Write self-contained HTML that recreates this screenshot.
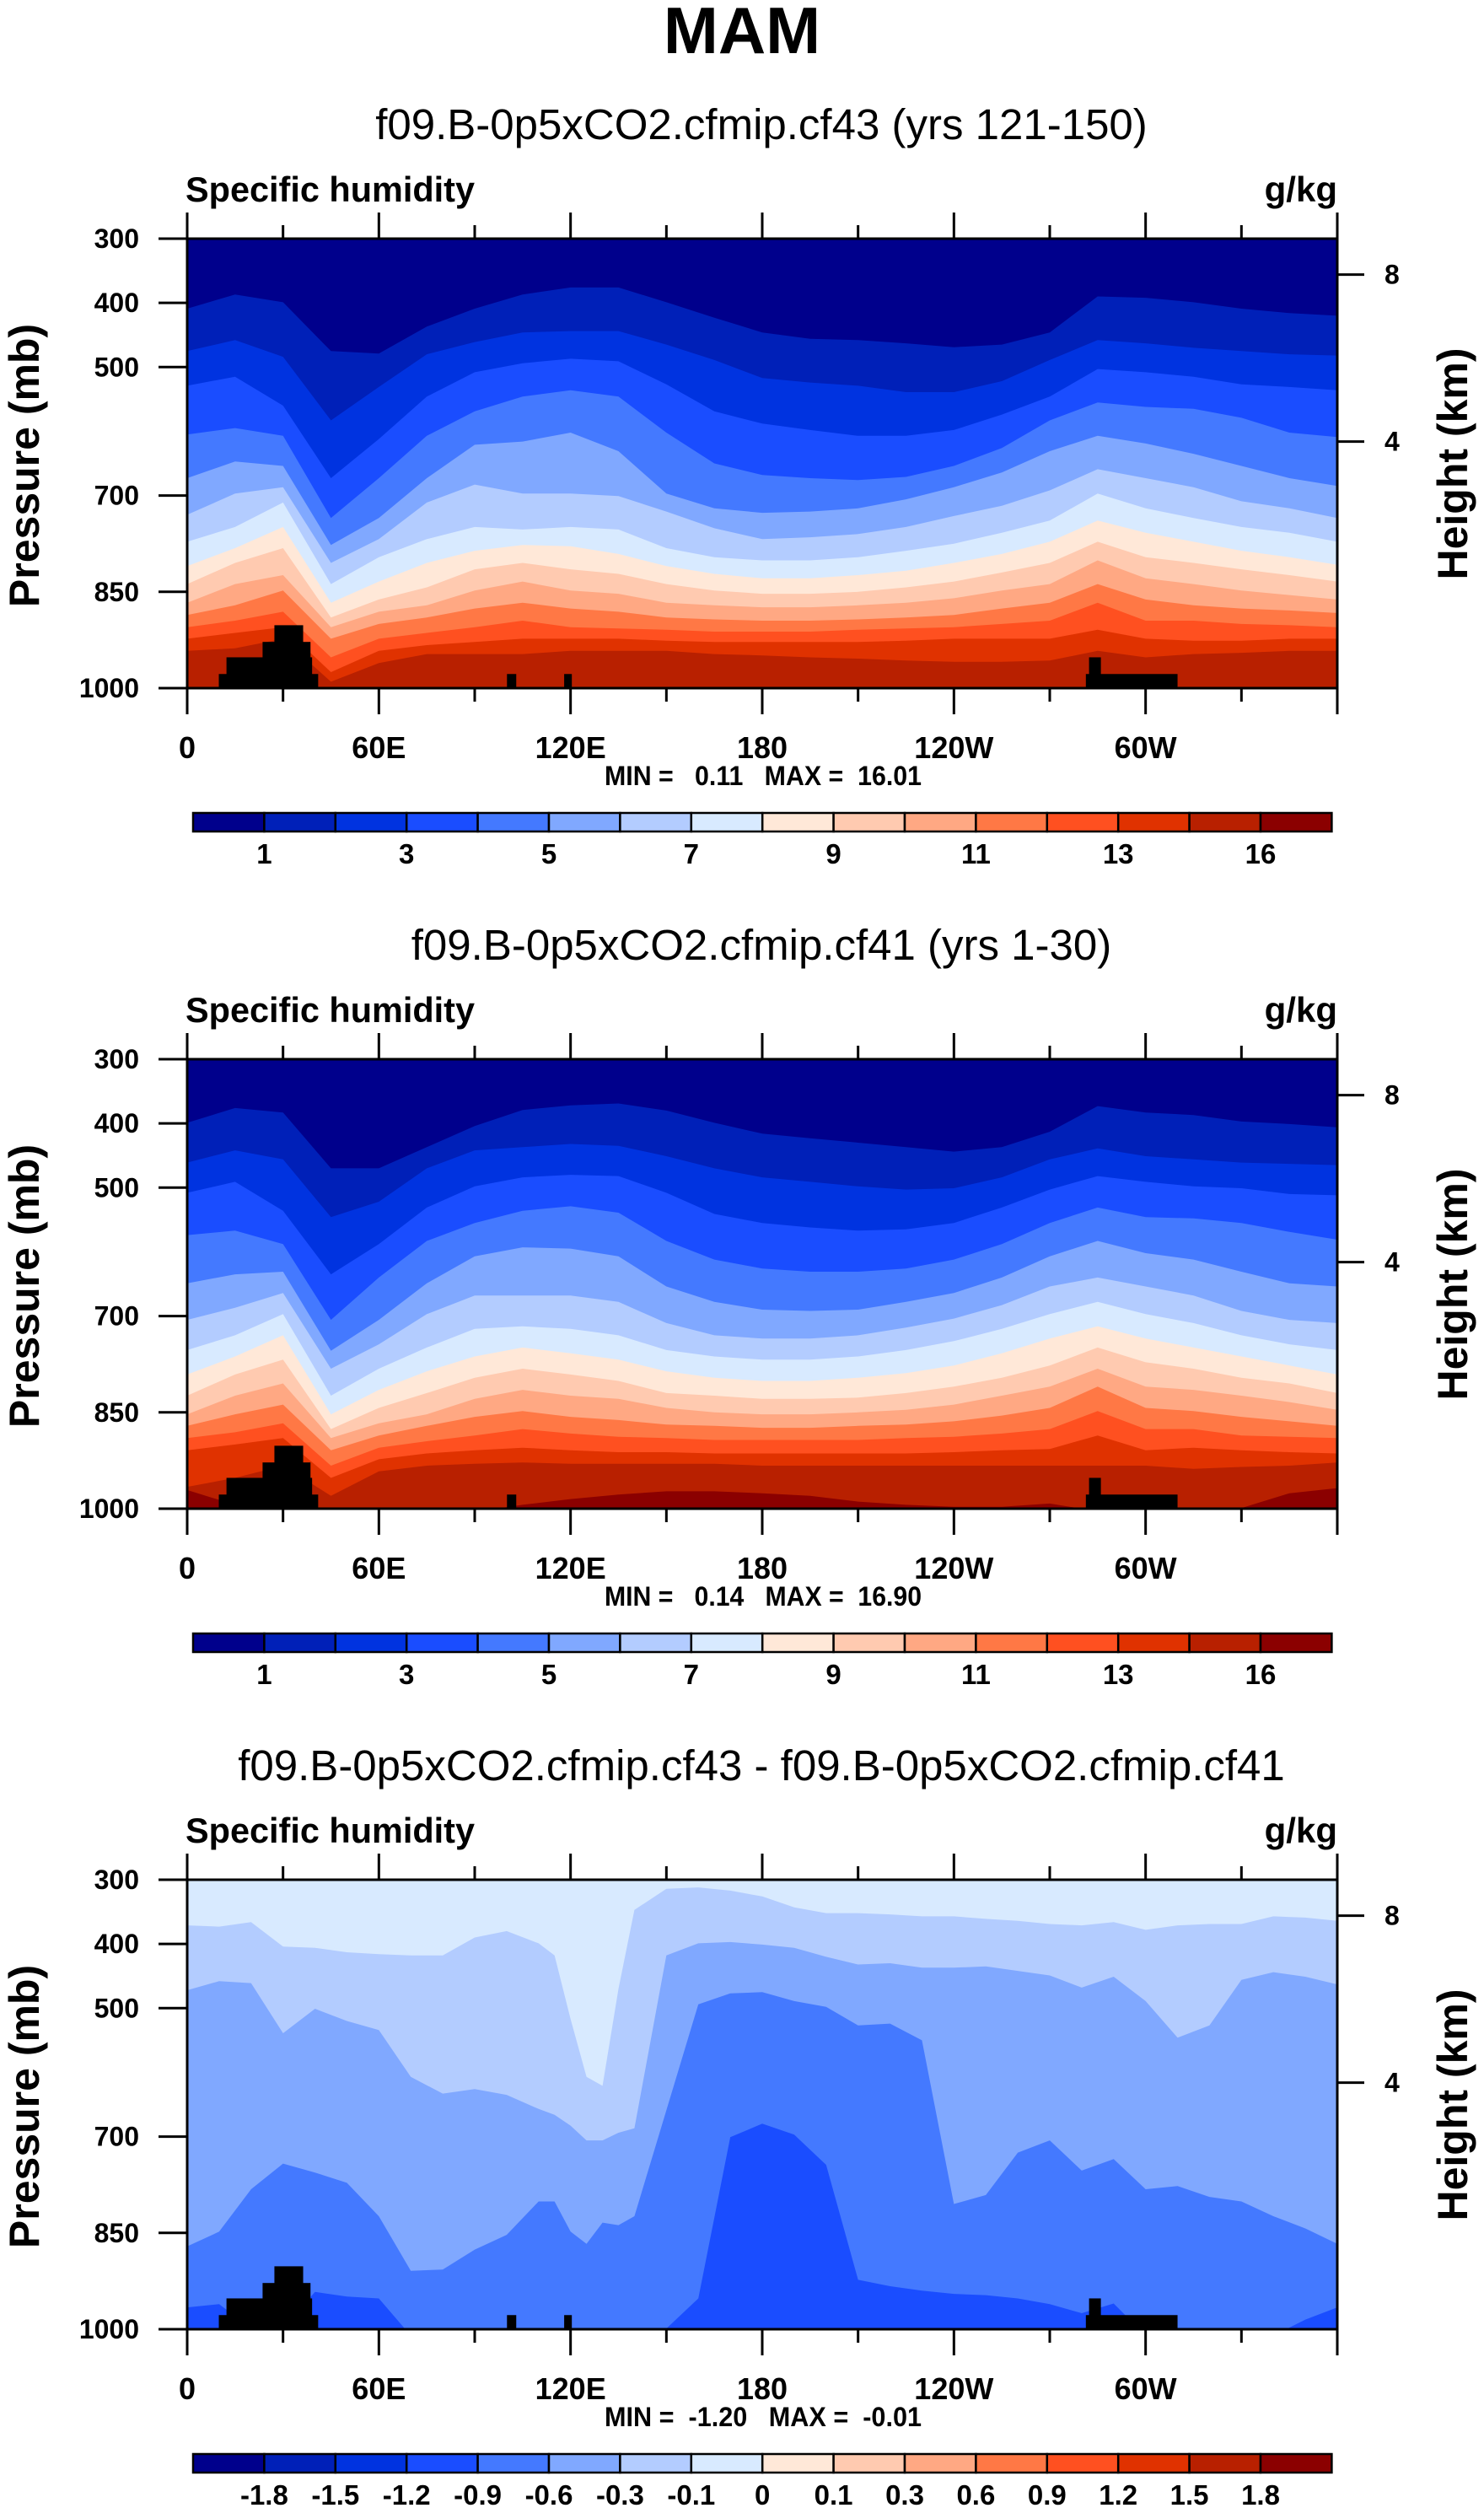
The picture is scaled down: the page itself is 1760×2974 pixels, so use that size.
<!DOCTYPE html>
<html><head><meta charset="utf-8">
<style>
html,body{margin:0;padding:0;background:#fff;}
svg{display:block;}
text{font-family:"Liberation Sans",Arial,sans-serif;fill:#000;}
.b{font-weight:bold;}
.pre{white-space:pre;}
</style></head>
<body>
<svg id="fig" xmlns="http://www.w3.org/2000/svg" width="1760" height="2974" viewBox="0 0 1760 2974">
<rect x="0" y="0" width="1760" height="2974" fill="#fff"/>
<text x="880" y="63" text-anchor="middle" class="b" font-size="78">MAM</text>
</svg>
<script>
// ---------------- DATA ----------------
const lonP12 = [0,15,30,45,60,75,90,105,120,135,150,165,180,195,210,225,240,255,270,285,300,315,330,345,360];
const p1Lines = [
[409,387,399,475,479,437,409,387,376,376,399,423,446,456,458,463,469,465,446,390,392,399,409,416,420],
[475,458,484,583,531,480,461,446,444,444,465,489,517,524,529,539,539,522,489,458,463,470,475,480,482],
[529,515,560,673,612,546,508,494,487,491,527,569,588,598,607,607,598,574,546,503,508,515,527,531,536],
[605,595,607,735,673,607,569,546,536,546,602,650,668,673,676,671,654,626,583,555,562,565,579,602,609],
[673,647,654,777,735,673,621,616,602,631,697,720,727,725,720,706,687,664,631,607,619,635,654,673,685],
[730,697,687,805,768,711,683,697,697,701,725,751,768,765,760,749,732,716,692,659,673,687,709,720,735],
[772,749,711,838,796,768,749,753,749,753,782,796,801,801,796,786,775,758,739,697,720,735,749,758,772],
[810,782,749,867,834,805,786,777,779,791,810,822,829,829,824,817,805,791,772,739,758,772,786,796,808],
[838,805,782,890,862,843,815,805,815,822,838,848,853,853,850,843,834,820,805,772,796,805,815,824,834],
[867,838,824,905,881,871,848,834,848,853,867,871,874,874,871,867,860,848,838,801,829,838,848,855,862],
[886,871,848,923,900,890,876,867,876,881,890,893,895,895,893,890,886,876,867,838,862,871,876,879,883],
[905,895,881,952,923,914,905,895,905,907,909,912,912,912,909,907,905,900,895,867,895,895,900,902,905],
[923,914,905,975,942,933,928,923,923,923,926,928,928,928,928,926,923,923,923,909,923,926,926,923,923],
[942,938,923,990,961,947,947,947,942,942,942,947,949,952,954,957,959,959,957,942,952,947,945,942,942]
];
const p2Lines = [
[399,376,383,470,470,437,404,379,372,369,380,399,416,423,430,437,444,437,413,373,383,387,397,401,406],
[461,442,456,546,522,470,442,437,432,435,451,470,484,491,498,503,501,484,456,439,451,456,461,463,465],
[508,491,536,635,588,531,498,484,480,482,508,541,555,562,567,565,555,531,503,482,491,498,501,510,512],
[574,567,588,706,640,583,555,536,529,539,583,612,626,631,631,626,612,588,555,531,546,548,555,569,581],
[649,635,631,754,706,649,607,593,595,607,654,678,690,692,690,678,664,640,607,583,602,612,631,649,654],
[706,687,664,782,744,697,668,668,668,678,711,730,735,735,730,718,704,683,654,640,654,668,692,706,711],
[753,730,697,824,782,749,720,716,720,730,753,763,768,768,763,753,739,720,697,678,697,711,730,744,753],
[791,763,730,853,815,786,763,749,758,768,786,796,801,801,796,789,777,758,735,716,735,749,763,777,791],
[824,791,768,876,843,820,796,782,791,801,820,824,829,829,827,820,810,796,777,749,772,782,796,805,820],
[853,824,805,890,867,853,829,815,824,829,843,850,853,853,850,846,838,824,810,782,810,815,824,834,846],
[871,853,838,909,886,871,857,848,857,862,869,871,874,874,871,869,864,855,843,810,843,848,857,864,871],
[890,881,867,933,905,895,886,876,883,888,890,893,893,893,893,890,888,883,876,848,876,876,886,888,890],
[909,900,890,952,923,914,909,905,909,912,912,914,914,914,914,914,912,909,907,886,909,905,909,912,914],
[966,952,933,980,942,933,930,928,930,930,930,930,933,933,933,933,933,933,933,933,933,938,935,933,928],
[971,994,1010,1010,1010,1010,1005,994,985,978,973,973,976,980,989,994,997,997,992,1004,1004,1004,999,976,968]
];
const lonP3 = [0,10,20,30,40,50,60,70,80,90,100,110,115,120,125,130,135,140,150,160,170,180,190,200,210,220,230,240,250,260,270,280,290,300,310,320,330,340,350,360];
const p3Line01 = [371,373,366,404,406,413,416,418,418,390,380,399,418,517,607,621,470,347,314,312,317,326,343,352,352,354,357,357,361,364,369,371,366,378,371,369,369,357,359,364];
const p3Line03 = [472,458,461,539,501,520,534,607,633,626,635,657,666,683,706,706,694,687,418,399,397,401,406,420,432,430,437,437,435,442,449,468,451,489,546,527,456,444,451,463];
const p3Line06 = [871,848,782,742,756,772,824,909,907,876,853,801,801,848,867,834,838,824,659,494,477,475,489,498,527,524,550,805,791,725,706,753,735,782,777,794,801,824,843,867];
const p3Line09 = [966,961,999,999,942,949,952,1010,1010,1010,1010,1010,1010,1010,1010,1010,1010,1010,999,952,701,680,697,744,923,933,940,945,947,952,961,975,960,1010,1010,1010,1010,1010,985,966];
const palette = ["#00008c","#0020b8","#0033e0","#1a4dff","#4479ff","#80a8ff","#b3ccff","#d8eaff","#ffe8d8","#ffcab0","#ffa883","#ff7845","#ff5020","#e03200","#b82000","#8b0000"];
const cbLabelsQ = ["1","3","5","7","9","11","13","16"];
const cbLabelsD = ["-1.8","-1.5","-1.2","-0.9","-0.6","-0.3","-0.1","0","0.1","0.3","0.6","0.9","1.2","1.5","1.8"];
const topoLon0 = [9.9,12.3,23.6,27.3,100.1,118,281.3,282.3];
const topoLon1 = [41,39.1,38.6,36.3,103,120.4,310,286];
const topoTop  = [978,952,928,902,978,978,978,952];
const xTickLabels = ["0","60E","120E","180","120W","60W"];
const pTicks = [300,400,500,700,850,1000];
const hTicks = [8,4];
const hTickP = [356,616];
const subtitles = ["f09.B-0p5xCO2.cfmip.cf43 (yrs 121-150)","f09.B-0p5xCO2.cfmip.cf41 (yrs 1-30)","f09.B-0p5xCO2.cfmip.cf43 - f09.B-0p5xCO2.cfmip.cf41"];
const minmax = ["MIN =   0.11   MAX =  16.01","MIN =   0.14   MAX =  16.90","MIN =  -1.20   MAX =  -0.01"];

// ---------------- DRAW ----------------
const NS="http://www.w3.org/2000/svg";
const svg=document.getElementById('fig');
const X0=222,X1=1586,H=533;
function mk(tag,attrs,parent){const e=document.createElementNS(NS,tag);for(const k in attrs)e.setAttribute(k,attrs[k]);(parent||svg).appendChild(e);return e;}
function xs(lon){return X0+lon/360*(X1-X0);}

function panel(i){
  const off=i*973, top=283+off, bot=top+H;
  const ys=p=>top+(p-300)/700*H;
  const g=mk('g',{});
  
  
  const cp=mk('clipPath',{id:'clip'+i},g);
  mk('rect',{x:X0,y:top,width:X1-X0,height:H},cp);
  const fg=mk('g',{'clip-path':'url(#clip'+i+')'},g);
  
  
  function layers(lons,lines,cols){
    const bg=mk('rect',{x:X0,y:top,width:X1-X0,height:H,fill:cols[0]},fg);
    
    
    lines.forEach((ln,k)=>{
      let pts=lons.map((l,j)=>xs(l).toFixed(1)+','+ys(ln[j]).toFixed(1));
      pts.push(X1+','+(bot+5));pts.push(X0+','+(bot+5));
      const pg=mk('polygon',{points:pts.join(' '),fill:cols[k+1]},fg);
      
      
    });
  }
  if(i===0) layers(lonP12,p1Lines,palette);
  else if(i===1) layers(lonP12,p2Lines,palette);
  else layers(lonP3,[p3Line01,p3Line03,p3Line06,p3Line09],["#d8eaff","#b3ccff","#80a8ff","#4479ff","#1a4dff"]);
  topoLon0.forEach((l0,j)=>{
    if(i===1 && l0>110 && l0<200) return;
    const r=mk('rect',{x:xs(l0),y:ys(topoTop[j]),width:xs(topoLon1[j])-xs(l0),height:ys(1000)-ys(topoTop[j]),fill:'#000'},fg);
    
    
  });
  const fr=mk('rect',{x:X0,y:top,width:X1-X0,height:H,fill:'none',stroke:'#000','stroke-width':3},g);
  
  
  for(let lon=0;lon<=360;lon+=30){
    const major=lon%60===0, L=major?31:16, x=xs(lon);
    mk('line',{x1:x,y1:top,x2:x,y2:top-L,stroke:'#000','stroke-width':3},g);
    mk('line',{x1:x,y1:bot,x2:x,y2:bot+L,stroke:'#000','stroke-width':3},g);
  }
  xTickLabels.forEach((t,j)=>{
    const tx=mk('text',{x:xs(j*60),y:bot+83,'text-anchor':'middle','font-size':36,class:'b'},g);
    tx.textContent=t;
    
    
  });
  pTicks.forEach(p=>{
    const y=ys(p);
    mk('line',{x1:X0-34,y1:y,x2:X0,y2:y,stroke:'#000','stroke-width':3},g);
    const tx=mk('text',{x:165,y:y+11,'text-anchor':'end','font-size':32,class:'b'},g);
    tx.textContent=p;
    
    
  });
  hTicks.forEach((h,j)=>{
    const y=ys(hTickP[j]);
    mk('line',{x1:X1,y1:y,x2:X1+32,y2:y,stroke:'#000','stroke-width':3},g);
    const tx=mk('text',{x:1642,y:y+11,'font-size':32,class:'b'},g);
    tx.textContent=h;
    
    
  });
  const yt=mk('text',{x:0,y:0,'text-anchor':'middle','font-size':50,class:'b',transform:'translate(46,'+(552+off)+') rotate(-90)'},g);
  yt.textContent='Pressure (mb)';
  
  
  const rt=mk('text',{x:0,y:0,'text-anchor':'middle','font-size':50,class:'b',transform:'translate(1740,'+(550+off)+') rotate(-90)'},g);
  rt.textContent='Height (km)';
  
  
  const st=mk('text',{x:903,y:165+off,'text-anchor':'middle','font-size':51},g);
  st.textContent=subtitles[i];
  
  
  const lt=mk('text',{x:220,y:239+off,'font-size':42,class:'b',textLength:343,lengthAdjust:'spacingAndGlyphs'},g);
  lt.textContent='Specific humidity';
  
  
  const ut=mk('text',{x:1586,y:239+off,'text-anchor':'end','font-size':42,class:'b'},g);
  ut.textContent='g/kg';
  
  
  const mm=mk('text',{x:717,y:931+off,'font-size':32,class:'b pre',textLength:376,lengthAdjust:'spacingAndGlyphs'},g);
  mm.textContent=minmax[i];
  
  
  const cb=mk('g',{},g);
  
  
  const cx0=229,w=84.4,cy=964+off,ch=22;
  palette.forEach((c,j)=>{
    const r=mk('rect',{x:cx0+j*w,y:cy,width:w,height:ch,fill:c,stroke:'#000','stroke-width':2.5},cb);
    
    
  });
  const labs=i<2?cbLabelsQ:cbLabelsD, step=i<2?2:1;
  labs.forEach((t,j)=>{
    const tx=mk('text',{x:cx0+(1+j*step)*w,y:1024+off,'text-anchor':'middle','font-size':33,class:'b'},cb);
    tx.textContent=t;
    
    
  });
}
[0,1,2].forEach(panel);
</script>
</body></html>
